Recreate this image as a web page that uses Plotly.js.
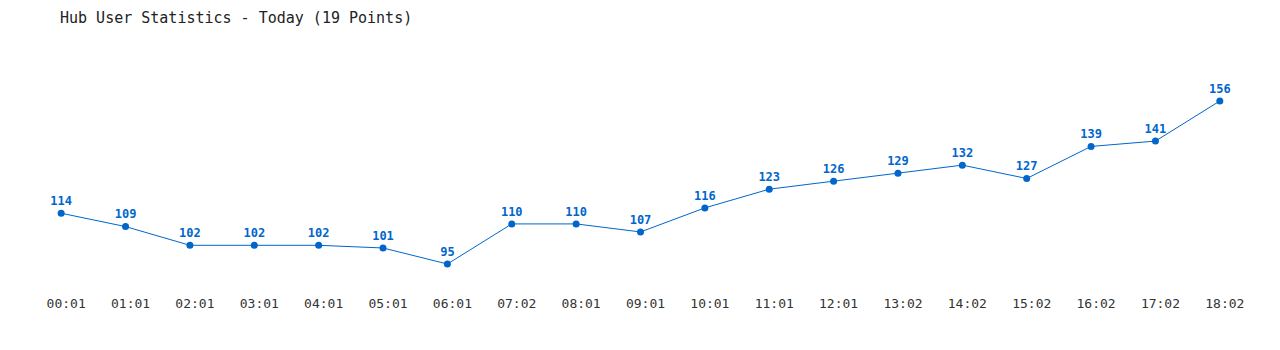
<!DOCTYPE html>
<html>
<head>
<meta charset="utf-8">
<script src="https://cdn.plot.ly/plotly-3.0.1.min.js"></script>
<style>html,body{margin:0;padding:0;background:#fff;}#chart{width:1280px;height:350px;}</style>
</head>
<body>
<div id="chart"></div>
<script>
const times = ["00:01","01:01","02:01","03:01","04:01","05:01","06:01","07:02","08:01","09:01","10:01","11:01","12:01","13:02","14:02","15:02","16:02","17:02","18:02"];
const users = [114,109,102,102,102,101,95,110,110,107,116,123,126,129,132,127,139,141,156];

const trace = {
  x: times,
  y: users,
  type: 'scatter',
  mode: 'lines+markers+text',
  text: users.map(String),
  textposition: 'top center',
  textfont: {family: 'DejaVu Sans Mono, monospace', size: 12, color: '#0066cc', weight: 'bold'},
  line: {color: '#0066cc', width: 1},
  marker: {color: '#0066cc', size: 7},
  cliponaxis: false,
  hoverinfo: 'x+y'
};

const layout = {
  width: 1280, height: 350,
  margin: {l: 29, r: 28, t: 40, b: 60},
  paper_bgcolor: '#fff', plot_bgcolor: '#fff',
  title: {text: 'Hub User Statistics - Today (19 Points)', x: 0, xref: 'paper', xanchor: 'left', y: 0.95, yref: 'container', yanchor: 'middle', pad: {l: 31},
          font: {family: 'DejaVu Sans Mono, monospace', size: 15, color: '#222'}},
  xaxis: {type: 'category', range: [-0.5, 18.5], showgrid: false, zeroline: false, showline: false, ticks: '',
          ticklabelstandoff: 4, ticklabelshift: 5,
          tickfont: {family: 'DejaVu Sans Mono, monospace', size: 13, color: '#333'}},
  yaxis: {range: [85.27, 178.83], showgrid: false, zeroline: false, showline: false, showticklabels: false, ticks: ''},
  showlegend: false,
  font: {family: 'DejaVu Sans Mono, monospace'}
};

Plotly.newPlot('chart', [trace], layout, {displayModeBar: false, staticPlot: true});
</script>
</body>
</html>
